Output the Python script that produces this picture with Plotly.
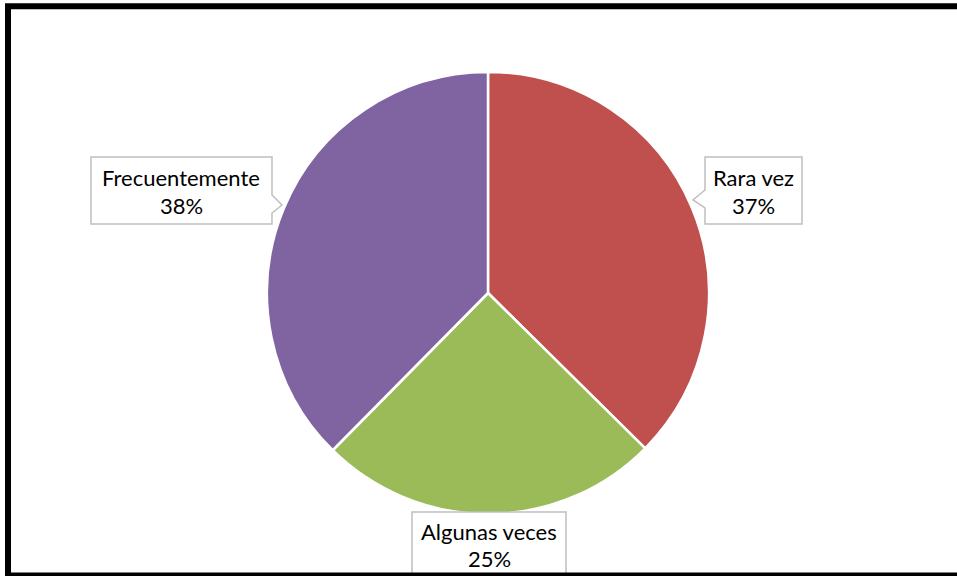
import plotly.graph_objects as go

categories = ["Rara vez", "Algunas veces", "Frecuentemente"]
values = [37.4, 25.0, 37.6]
colors = ["#C0504D", "#9BBB59", "#8064A2"]

W, H = 957, 576

def px(x):
    return x / W

def py(y):
    return 1 - y / H

def path(points):
    return "M " + " L ".join(f"{px(x):.5f},{py(y):.5f}" for x, y in points) + " Z"

fig = go.Figure(go.Pie(
    labels=categories,
    values=values,
    marker=dict(colors=colors, line=dict(color="white", width=2.5)),
    sort=False,
    direction="clockwise",
    rotation=0,
    textinfo="none",
    hoverinfo="label+percent",
    showlegend=False,
    domain=dict(x=[px(488 - 221), px(488 + 221)], y=[py(514), py(72)]),
))

shapes = []
callouts = [
    # Rara vez
    [(705, 157), (802, 157), (802, 224), (705, 224), (705, 208), (693, 200), (705, 190)],
    # Algunas veces
    [(412, 512), (566, 512), (566, 590), (412, 590)],
    # Frecuentemente
    [(91, 157), (272, 157), (272, 195), (282, 205), (272, 213), (272, 224), (91, 224)],
]
for pts in callouts:
    shapes.append(dict(type="path", xref="paper", yref="paper", path=path(pts),
                       line=dict(color="#BFBFBF", width=1.5), fillcolor="white", layer="above"))
# outer frame
shapes.append(dict(type="rect", xref="paper", yref="paper",
                   x0=px(8), x1=px(975), y0=py(575.5), y1=py(6.3),
                   line=dict(color="black", width=6), fillcolor="rgba(0,0,0,0)", layer="above"))

label_pos = [(753, 177, 206), (489, 531, 558), (181, 177, 206)]
annotations = []
total = sum(values)
for cat, v, (cx, y1, y2) in zip(categories, values, label_pos):
    pct = int(100 * v / total + 0.5)
    annotations.append(dict(x=px(cx), y=py(y1), xref="paper", yref="paper", text=cat,
                            showarrow=False, font=dict(family="Lato", size=22, color="black"),
                            xanchor="center", yanchor="middle"))
    annotations.append(dict(x=px(cx), y=py(y2), xref="paper", yref="paper", text=f"{pct}%",
                            showarrow=False, font=dict(family="Lato", size=22, color="black"),
                            xanchor="center", yanchor="middle"))

fig.update_layout(
    width=W, height=H,
    margin=dict(l=0, r=0, t=0, b=0),
    paper_bgcolor="white",
    plot_bgcolor="white",
    shapes=shapes,
    annotations=annotations,
)

fig.write_html("out.html", config={"displayModeBar": False},
               post_script="document.body.style.margin='0';document.body.style.overflow='hidden';")
